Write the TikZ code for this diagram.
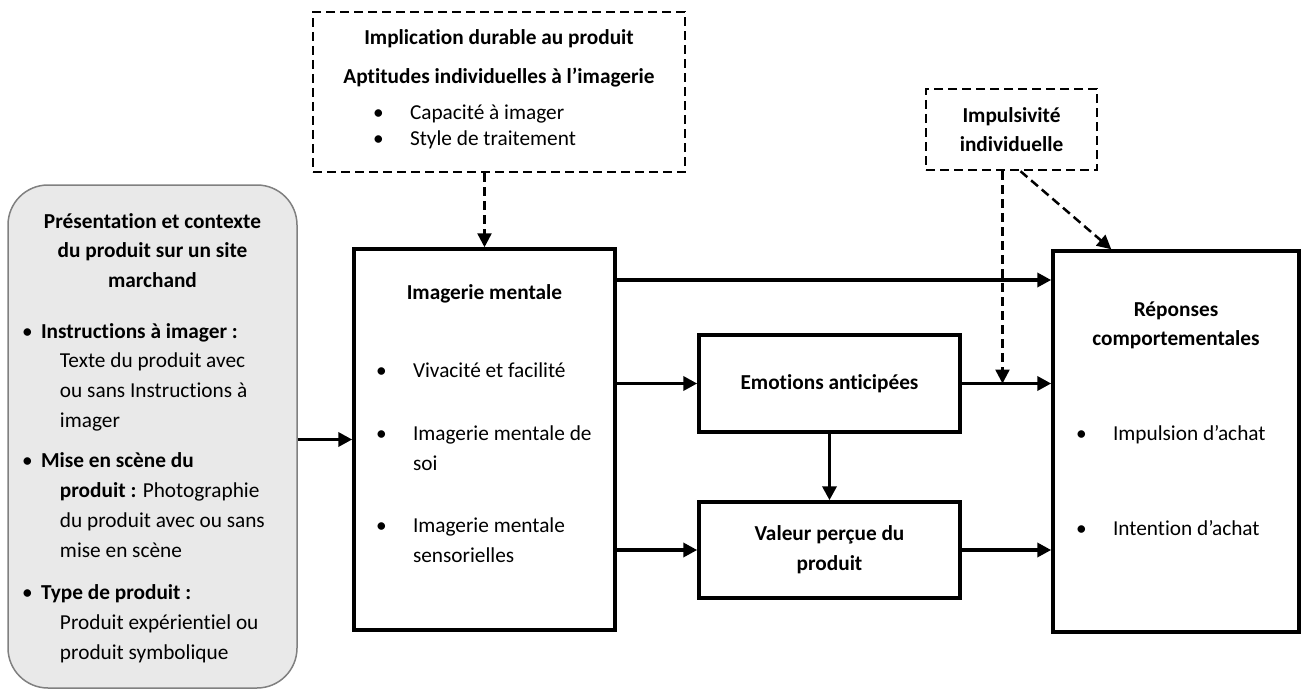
\documentclass[tikz,border=0pt]{standalone}
\usepackage{fontspec}
\setmainfont[Ligatures={NoCommon}]{Carlito}
\usepackage{tikz}
\usetikzlibrary{arrows.meta}

\newcommand{\puce}[1]{\makebox[#1][l]{\textbullet}}
\newcommand{\cadre}[3]{\parbox[c][#2][t]{#1}{#3}}

\begin{document}
\begin{tikzpicture}[x=1pt,y=-1pt,
  every node/.style={font=\fontsize{21.3}{29.7}\selectfont},
  boite/.style={draw,line width=3.5pt,inner sep=0pt},
  pointille/.style={draw,line width=2.5pt,dash pattern=on 9pt off 5pt,inner sep=0pt},
  contexte/.style={draw=gray,line width=1.5pt,fill=gray!17,rounded corners=40pt,inner sep=0pt},
  fleche/.style={-{Triangle[length=14pt,width=14pt]},line width=3.5pt},
  flechep/.style={fleche,dash pattern=on 9pt off 5pt,line width=2.5pt}]
\useasboundingbox (0,0) rectangle (1302,693);

% gauche
\path (152.5,436.5) node (contexte) [contexte] {\cadre{289pt}{503pt}{%
\rule{0pt}{43pt}\makebox[289pt]{\textbf{Présentation et contexte}}\\
\makebox[289pt]{\textbf{du produit sur un site}}\\
\makebox[289pt]{\textbf{marchand}}\\[21pt]
\hspace*{14pt}\puce{19pt}\textbf{Instructions à imager :}\\
\hspace*{52pt}Texte du produit avec\\
\hspace*{52pt}ou sans Instructions à\\
\hspace*{52pt}imager\\[11pt]
\hspace*{14pt}\puce{19pt}\textbf{Mise en scène du}\\
\hspace*{52pt}\textbf{produit :} Photographie\\
\hspace*{52pt}du produit avec ou sans\\
\hspace*{52pt}mise en scène\\[13pt]
\hspace*{14pt}\puce{19pt}\textbf{Type de produit :}\\
\hspace*{52pt}Produit expérientiel ou\\
\hspace*{52pt}produit symbolique}};

% haut
\path (499,92) node (aptitudes) [pointille] {\cadre{372pt}{160pt}{%
\fontsize{21.3}{25.6}\selectfont
\rule{0pt}{32pt}\makebox[372pt]{\textbf{Implication durable au produit}}\\[14.4pt]
\makebox[372pt]{\textbf{Aptitudes individuelles à l’imagerie}}\\[10.4pt]
\hspace*{60pt}\puce{37pt}Capacité à imager\\
\hspace*{60pt}\puce{37pt}Style de traitement}};

\path (484.5,439.5) node (imagerie) [boite] {\cadre{261pt}{381pt}{%
\rule{0pt}{50pt}\makebox[261pt]{\textbf{Imagerie mentale}}\\[49pt]
\hspace*{22pt}\puce{37pt}Vivacité et facilité\\[33pt]
\hspace*{22pt}\puce{37pt}Imagerie mentale de\\
\hspace*{59pt}soi\\[33pt]
\hspace*{22pt}\puce{37pt}Imagerie mentale\\
\hspace*{59pt}sensorielles}};

\path (829.5,383.5) node (emotions) [boite,minimum width=261pt,minimum height=97pt] {\textbf{Emotions anticipées}};
\path (829.5,550) node (valeur) [boite,minimum width=261pt,minimum height=96pt,align=center] {\textbf{Valeur perçue du}\\\textbf{produit}};
\path (1011.5,129.5) node (impulsivite) [pointille,minimum width=171pt,minimum height=81pt,align=center] {\textbf{Impulsivité}\\\textbf{individuelle}};

\path (1176,441.5) node (reponses) [boite] {\cadre{246pt}{381pt}{%
\rule{0pt}{65pt}\makebox[246pt]{\textbf{Réponses}}\\
\makebox[246pt]{\textbf{comportementales}}\\[65.3pt]
\hspace*{23pt}\puce{37pt}Impulsion d’achat\\[65.3pt]
\hspace*{23pt}\puce{37pt}Intention d’achat}};

\coordinate (haut) at ([yshift=159.5pt]imagerie.east);
\coordinate (impg) at ([xshift=-9pt]impulsivite.south);
\coordinate (impd) at ([xshift=9pt]impulsivite.south);

\draw [fleche] (contexte.east |- imagerie.west) to (imagerie.west);
\draw [flechep] (imagerie.north |- aptitudes.south) to (imagerie.north);
\draw [fleche] (haut) to (haut -| reponses.west);
\draw [fleche] (imagerie.east |- emotions.west) to (emotions.west);
\draw [fleche] (imagerie.east |- valeur.west) to (valeur.west);
\draw [fleche] (emotions.south) to (valeur.north);
\draw [fleche] (emotions.east) to (emotions.east -| reponses.west);
\draw [fleche] (valeur.east) to (valeur.east -| reponses.west);
\draw [flechep] (impg) to (impg |- emotions.east);
\draw [flechep] (impd) to ([xshift=60pt]reponses.north west);
\end{tikzpicture}
\end{document}
